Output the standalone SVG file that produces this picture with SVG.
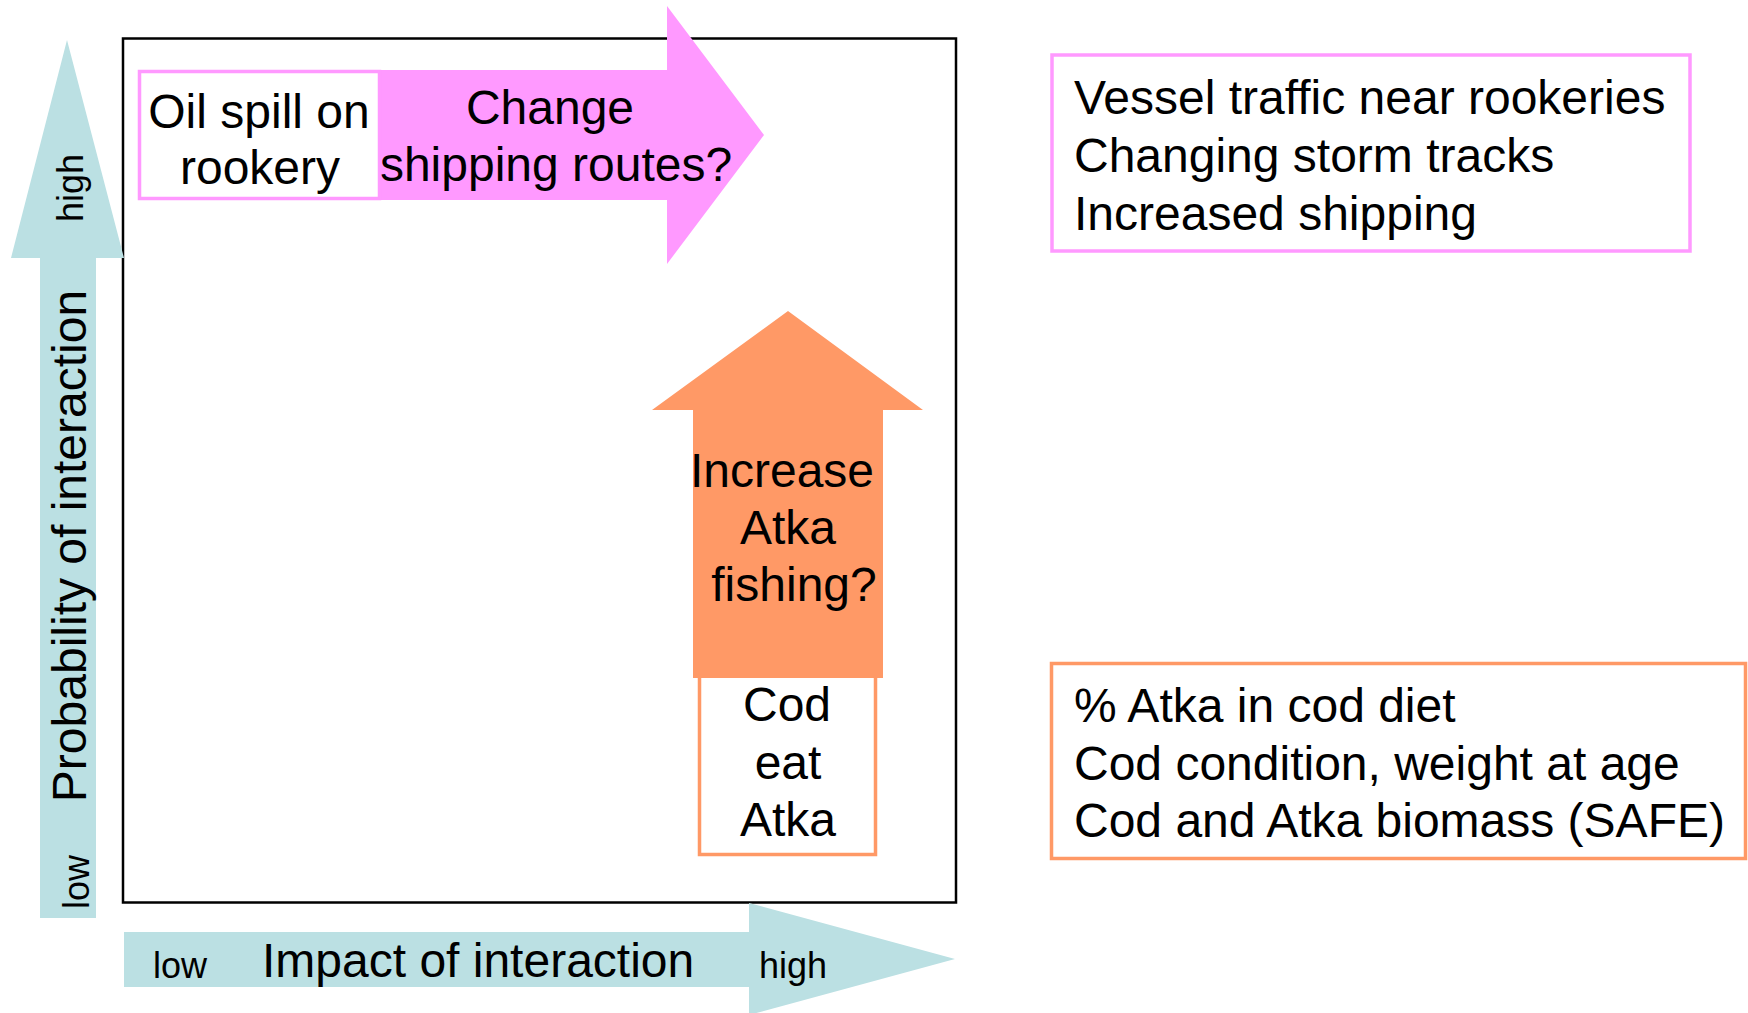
<svg xmlns="http://www.w3.org/2000/svg" width="1748" height="1013" viewBox="0 0 1748 1013">
<style>
  text { font-family: "Liberation Sans", Arial, sans-serif; fill: #000; }
  .big { font-size: 48px; }
  .small { font-size: 36px; }
  .mid { text-anchor: middle; }
  .axis { fill: #BBE0E3; stroke: none; }
  .pinkfill { fill: #FF99FF; stroke: none; }
  .orangefill { fill: #FF9966; stroke: none; }
  .pinkbox { fill: #FFFFFF; stroke: #FF99FF; stroke-width: 3.5; }
  .orangebox { fill: #FFFFFF; stroke: #FF9966; stroke-width: 3.5; }
</style>
<rect width="1748" height="1013" fill="#FFFFFF"/>

<g id="plot-frame">
  <rect x="123" y="38.5" width="833" height="864" fill="none" stroke="#000" stroke-width="2.5"/>
</g>

<g id="axis-probability">
  <polygon class="axis" points="40,918 40,258 11,258 67,40 124,258 96,258 96,918"/>
  <text class="small mid" transform="translate(83,188) rotate(-90)">high</text>
  <text class="big mid" transform="translate(86,546) rotate(-90)">Probability of interaction</text>
  <text class="small mid" transform="translate(89,882) rotate(-90)">low</text>
</g>

<g id="axis-impact">
  <polygon class="axis" points="124,932 749,932 749,903 955,959 749,1015 749,987 124,987"/>
  <text class="small" x="153" y="978">low</text>
  <text class="big" x="262" y="977">Impact of interaction</text>
  <text class="small" x="759" y="978">high</text>
</g>

<g id="arrow-shipping">
  <polygon class="pinkfill" points="380,70 667,70 667,6 764,135 667,264 667,200 380,200"/>
  <text class="big mid" x="550" y="124">Change</text>
  <text class="big mid" x="556" y="181">shipping routes?</text>
</g>

<g id="node-oil-spill">
  <rect class="pinkbox" x="139.5" y="71.5" width="240" height="127"/>
  <text class="big mid" x="259" y="128">Oil spill on</text>
  <text class="big mid" x="260" y="184">rookery</text>
</g>

<g id="node-cod-eat-atka">
  <rect class="orangebox" x="699.5" y="670" width="176" height="184.5"/>
  <text class="big mid" x="787" y="721">Cod</text>
  <text class="big mid" x="788" y="779">eat</text>
  <text class="big mid" x="788" y="836">Atka</text>
</g>

<g id="arrow-atka-fishing">
  <polygon class="orangefill" points="693,678 693,410 652,410 788,311 923,410 883,410 883,678"/>
  <text class="big mid" x="782" y="487">Increase</text>
  <text class="big mid" x="788" y="544">Atka</text>
  <text class="big mid" x="794" y="601">fishing?</text>
</g>

<g id="node-shipping-indicators">
  <rect class="pinkbox" x="1052" y="55" width="638" height="196"/>
  <text class="big" x="1074" y="114">Vessel traffic near rookeries</text>
  <text class="big" x="1074" y="172">Changing storm tracks</text>
  <text class="big" x="1074" y="230">Increased shipping</text>
</g>

<g id="node-cod-indicators">
  <rect class="orangebox" x="1051.5" y="663.5" width="694" height="195"/>
  <text class="big" x="1074" y="722">% Atka in cod diet</text>
  <text class="big" x="1074" y="780">Cod condition, weight at age</text>
  <text class="big" x="1074" y="837">Cod and Atka biomass (SAFE)</text>
</g>

<g id="connectors"></g>
</svg>
